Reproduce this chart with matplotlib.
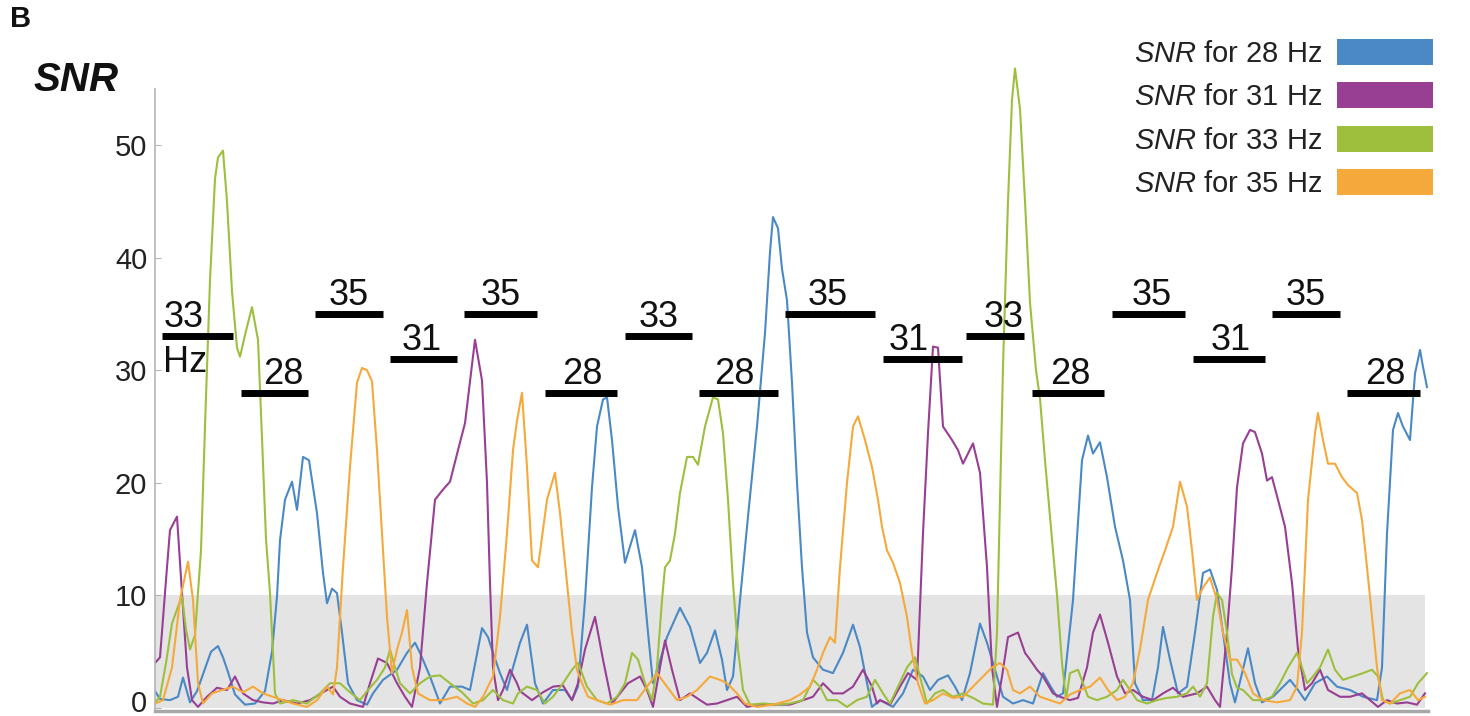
import numpy as np
import matplotlib
matplotlib.use("Agg")
import matplotlib.pyplot as plt
import matplotlib.transforms as mtransforms
from matplotlib.patches import Patch

# SNR traces, (time, SNR)
snr_28 = [
    (0.0, 1.5), (0.5, 0.8), (1.5, 0.7), (2.3, 1.0), (2.8, 2.7), (3.5, 0.5), (4.2, 1.5),
    (5.0, 3.5), (5.6, 5.0), (6.3, 5.5), (6.8, 4.5), (7.3, 3.2), (8.0, 1.2), (9.0, 0.3),
    (10.0, 0.4), (11.0, 1.5), (11.7, 5.0), (12.2, 9.9), (12.5, 14.9), (13.0, 18.5),
    (13.7, 20.1), (14.2, 17.6), (14.8, 22.3), (15.4, 22.0), (16.2, 17.3), (16.8, 12.0),
    (17.2, 9.3), (17.7, 10.6), (18.2, 10.2), (18.7, 6.7), (19.3, 2.2), (20.2, 0.7),
    (21.2, 0.3), (21.8, 1.3), (22.8, 2.5), (24.2, 3.4), (25.2, 4.9), (26.0, 5.8),
    (26.5, 4.9), (27.5, 2.8), (28.5, 0.4), (29.5, 1.9), (30.7, 1.9), (31.5, 1.6),
    (32.7, 7.1), (33.3, 6.3), (33.8, 4.9), (34.5, 3.1), (35.2, 1.6), (35.8, 3.6),
    (36.5, 5.8), (37.2, 7.4), (38.0, 2.2), (38.8, 0.4), (39.8, 1.6), (41.0, 1.6),
    (41.7, 0.7), (42.3, 1.9), (43.0, 9.6), (43.7, 19.6), (44.2, 25.0), (44.8, 27.4),
    (45.2, 27.6), (45.7, 23.8), (46.3, 17.9), (47.0, 12.9), (48.0, 15.8), (48.7, 12.5),
    (49.3, 6.7), (49.8, 2.2), (50.3, 3.6), (51.2, 6.3), (52.5, 8.9), (53.5, 7.2),
    (54.5, 4.0), (55.2, 4.9), (56.0, 6.9), (56.7, 4.3), (57.2, 1.6), (57.8, 2.8),
    (58.5, 9.6), (59.3, 17.0), (60.2, 25.0), (61.0, 33.3), (61.5, 40.5), (61.8, 43.6),
    (62.3, 42.6), (62.7, 39.0), (63.2, 36.2), (63.7, 28.9), (64.2, 20.0), (64.7, 12.5),
    (65.2, 6.7), (65.8, 4.5), (66.8, 3.4), (67.8, 3.1), (68.8, 4.9), (69.8, 7.4),
    (70.5, 5.4), (71.2, 2.2), (71.7, 0.1), (72.5, 0.7), (73.8, 0.1), (74.8, 1.3),
    (75.8, 3.4), (76.8, 2.8), (77.5, 1.6), (78.3, 2.5), (79.3, 2.9), (80.0, 1.9),
    (80.7, 0.7), (81.5, 3.1), (82.5, 7.5), (83.2, 5.8), (84.0, 3.4), (84.8, 1.0),
    (85.8, 0.4), (86.8, 0.7), (87.8, 0.4), (88.8, 3.1), (89.5, 2.0), (90.2, 1.0),
    (90.8, 1.3), (91.8, 9.6), (92.7, 22.0), (93.3, 24.2), (93.8, 22.6), (94.5, 23.6),
    (95.2, 20.5), (96.0, 16.1), (96.8, 13.1), (97.5, 9.6), (98.0, 2.2), (98.8, 0.7),
    (99.7, 0.7), (100.3, 3.6), (100.8, 7.2), (101.5, 4.3), (102.3, 1.3), (103.2, 1.9),
    (104.0, 6.7), (104.8, 12.0), (105.5, 12.3), (106.2, 10.5), (106.8, 6.7), (107.5, 2.2),
    (108.0, 0.5), (108.7, 3.1), (109.3, 5.3), (110.0, 2.2), (110.7, 0.5), (111.8, 1.0),
    (113.5, 2.5), (114.3, 1.6), (115.0, 0.7), (116.0, 2.2), (117.2, 2.8), (118.2, 1.9),
    (119.5, 1.6), (120.8, 1.0), (122.2, 0.7), (122.7, 3.6), (123.2, 15.5), (123.8, 24.7),
    (124.3, 26.2), (124.8, 25.0), (125.5, 23.8), (126.0, 29.7), (126.5, 31.8),
    (126.8, 30.3), (127.2, 28.5),
]

snr_31 = [
    (0.0, 4.0), (0.5, 4.5), (1.2, 12.5), (1.5, 15.8), (2.2, 17.0), (2.7, 10.2), (3.2, 3.6),
    (3.7, 0.7), (4.3, 0.1), (5.2, 1.0), (6.2, 1.8), (7.2, 1.6), (8.0, 2.8), (8.8, 1.3),
    (9.8, 0.7), (10.8, 0.5), (11.8, 0.4), (12.8, 0.7), (14.2, 0.4), (15.5, 0.7),
    (16.8, 1.4), (17.8, 1.9), (18.5, 1.0), (19.5, 0.4), (20.8, 0.1), (21.5, 2.2),
    (22.3, 4.4), (23.2, 4.0), (24.2, 2.2), (25.0, 1.0), (25.7, 0.1), (26.5, 3.6),
    (27.2, 11.1), (28.0, 18.5), (28.8, 19.4), (29.5, 20.1), (30.3, 22.9), (31.0, 25.3),
    (32.0, 32.7), (32.7, 29.1), (33.2, 20.0), (33.5, 11.1), (33.8, 3.6), (34.3, 0.7),
    (34.8, 1.6), (35.5, 3.4), (36.2, 2.2), (36.5, 1.5), (37.7, 0.7), (38.8, 1.4),
    (39.8, 1.9), (40.8, 2.0), (41.7, 0.7), (42.3, 2.2), (43.0, 5.2), (44.0, 8.1),
    (44.8, 4.3), (45.7, 0.4), (46.5, 1.3), (47.3, 2.2), (48.5, 2.8), (49.2, 1.6),
    (49.8, 0.1), (50.5, 3.6), (51.0, 6.0), (51.7, 3.4), (52.5, 0.7), (53.5, 1.3),
    (54.5, 0.7), (55.2, 0.3), (56.2, 0.4), (57.2, 0.7), (58.2, 1.0), (59.2, 0.1),
    (60.2, 0.3), (63.5, 0.3), (64.8, 0.7), (65.8, 1.0), (66.8, 2.2), (67.8, 1.3),
    (68.8, 1.3), (69.8, 1.9), (70.8, 3.4), (71.7, 1.9), (72.2, 0.4), (72.5, 0.7),
    (73.5, 0.3), (74.5, 1.9), (75.3, 3.1), (76.2, 2.5), (76.8, 15.5), (77.3, 24.4),
    (77.8, 32.1), (78.3, 32.0), (78.8, 25.0), (79.7, 23.8), (80.3, 22.9), (80.8, 21.7),
    (81.8, 23.5), (82.5, 20.9), (83.2, 12.5), (83.7, 3.6), (84.2, 0.1), (84.7, 2.8),
    (85.3, 6.3), (86.3, 6.7), (87.0, 4.9), (87.5, 4.3), (88.2, 3.4), (88.8, 2.8),
    (89.8, 1.3), (90.5, 1.0), (91.5, 0.7), (92.3, 0.9), (93.2, 3.6), (93.8, 6.7),
    (94.5, 8.3), (95.3, 5.8), (96.2, 2.8), (97.0, 1.3), (97.8, 1.6), (98.8, 1.0),
    (99.8, 0.7), (100.8, 1.3), (101.8, 1.8), (102.8, 1.0), (104.2, 1.3), (105.2, 1.9),
    (106.0, 0.7), (106.5, 0.1), (107.2, 6.7), (107.7, 12.5), (108.2, 19.6), (108.8, 23.5),
    (109.5, 24.7), (110.0, 24.5), (110.7, 22.6), (111.2, 20.2), (111.7, 20.5),
    (112.3, 18.5), (113.0, 16.1), (113.7, 11.1), (114.3, 5.2), (115.0, 1.6), (115.7, 2.2),
    (116.5, 3.4), (117.3, 1.6), (118.5, 1.0), (119.5, 1.0), (120.7, 1.3), (121.5, 0.7),
    (122.3, 0.1), (123.2, 0.7), (124.2, 0.4), (125.2, 0.5), (126.2, 0.3), (127.0, 1.3),
]

snr_33 = [
    (0.0, 0.5), (0.5, 1.0), (1.1, 4.0), (1.7, 7.5), (2.3, 9.0), (2.7, 9.9), (3.1, 7.0),
    (3.5, 5.2), (4.0, 6.5), (4.3, 10.2), (4.6, 14.0), (5.0, 25.0), (5.5, 38.0),
    (6.0, 47.0), (6.3, 48.9), (6.8, 49.5), (7.2, 45.0), (7.7, 37.0), (8.2, 32.0),
    (8.5, 31.2), (9.1, 33.5), (9.7, 35.6), (10.3, 32.7), (10.7, 24.0), (11.1, 15.0),
    (11.5, 10.2), (12.0, 1.3), (12.5, 0.4), (13.8, 0.7), (15.2, 0.4), (16.5, 1.3),
    (17.5, 2.2), (18.5, 2.2), (19.5, 1.4), (20.5, 0.7), (21.3, 1.6), (22.2, 2.5),
    (23.0, 3.6), (23.5, 5.2), (24.0, 3.6), (24.5, 2.2), (25.5, 1.3), (26.5, 2.2),
    (27.5, 2.8), (28.5, 2.9), (29.5, 2.2), (30.7, 1.4), (31.8, 0.4), (32.8, 0.7),
    (33.8, 1.6), (34.8, 0.7), (35.8, 0.4), (36.3, 1.3), (37.2, 1.9), (38.2, 1.6),
    (39.0, 0.4), (39.8, 1.0), (40.8, 2.2), (41.7, 3.4), (42.3, 4.0), (43.2, 1.9),
    (44.2, 0.7), (45.2, 0.4), (46.2, 1.0), (47.0, 2.2), (47.7, 4.9), (48.3, 4.3),
    (49.0, 2.2), (49.7, 0.7), (50.2, 3.6), (50.7, 9.6), (51.0, 12.5), (51.5, 13.1),
    (52.0, 15.5), (52.5, 19.1), (53.2, 22.3), (53.8, 22.3), (54.3, 21.6), (55.0, 25.0),
    (55.8, 27.6), (56.3, 27.4), (56.8, 24.4), (57.3, 18.5), (57.8, 11.1), (58.3, 5.2),
    (58.8, 1.6), (59.5, 0.3), (60.8, 0.4), (62.2, 0.3), (63.5, 0.4), (64.8, 0.7),
    (65.8, 2.5), (66.5, 1.9), (67.2, 0.7), (68.2, 0.7), (69.2, 0.1), (70.2, 0.7),
    (71.2, 1.0), (72.0, 2.5), (72.8, 1.3), (73.5, 0.4), (74.3, 1.9), (75.2, 3.6),
    (76.0, 4.5), (76.5, 2.8), (77.2, 0.4), (78.0, 1.3), (78.8, 1.6), (79.8, 1.0),
    (80.8, 1.3), (81.8, 0.9), (82.8, 0.4), (83.8, 0.3), (84.2, 6.7), (84.5, 18.5),
    (84.8, 30.3), (85.3, 45.0), (85.7, 54.0), (86.0, 56.8), (86.5, 53.2), (87.0, 45.0),
    (87.5, 36.0), (88.1, 30.0), (88.5, 27.5), (89.0, 22.0), (89.5, 17.0), (90.2, 10.0),
    (90.7, 4.0), (91.1, 0.8), (91.5, 3.1), (92.3, 3.4), (92.8, 2.2), (93.3, 1.0),
    (94.2, 0.7), (95.2, 1.0), (96.2, 1.6), (96.8, 2.5), (97.5, 1.6), (98.2, 0.7),
    (99.2, 0.4), (100.2, 0.7), (101.2, 0.9), (102.2, 1.0), (103.2, 1.3), (103.8, 1.9),
    (104.5, 1.0), (105.2, 2.2), (105.8, 8.1), (106.2, 10.2), (106.7, 9.6), (107.2, 6.7),
    (107.7, 3.0), (108.2, 1.8), (108.8, 1.6), (109.8, 0.7), (110.8, 0.7), (111.7, 1.0),
    (112.5, 2.2), (113.3, 3.6), (114.2, 4.9), (114.7, 3.6), (115.2, 2.2), (115.8, 2.8),
    (116.5, 3.6), (117.3, 5.2), (118.0, 3.4), (118.8, 2.5), (119.8, 2.8), (120.8, 3.1),
    (121.7, 3.4), (122.3, 2.8), (122.8, 0.7), (123.5, 0.4), (124.5, 0.7), (125.5, 1.0),
    (126.3, 2.2), (127.2, 3.1),
]

snr_35 = [
    (0.0, 0.4), (0.8, 0.7), (1.7, 3.6), (2.5, 9.6), (3.3, 13.0), (3.8, 9.6), (4.3, 2.2),
    (4.8, 0.4), (5.7, 1.3), (6.7, 1.6), (7.8, 1.9), (8.8, 1.4), (9.8, 1.9), (10.8, 1.3),
    (11.8, 1.0), (12.8, 0.7), (13.8, 0.4), (15.2, 0.1), (16.2, 0.7), (17.2, 1.9),
    (17.8, 1.2), (18.2, 3.6), (18.8, 12.5), (19.5, 21.4), (20.2, 28.9), (20.7, 30.2),
    (21.2, 30.0), (21.7, 29.0), (22.2, 22.9), (22.7, 15.5), (23.2, 8.1), (23.7, 3.1),
    (24.2, 5.2), (24.7, 6.7), (25.2, 8.7), (25.7, 3.6), (26.3, 1.3), (27.5, 0.7),
    (28.8, 0.7), (30.2, 1.0), (31.2, 0.4), (32.0, 0.1), (32.8, 1.0), (33.8, 2.8),
    (34.5, 8.1), (35.2, 15.5), (35.8, 22.9), (36.2, 25.5), (36.7, 28.0), (37.2, 21.4),
    (37.7, 13.1), (38.3, 12.5), (39.2, 18.5), (40.0, 20.9), (40.5, 17.3), (41.2, 11.1),
    (41.7, 6.7), (42.2, 3.4), (42.7, 2.2), (43.3, 1.0), (44.2, 0.7), (45.5, 0.3),
    (46.8, 0.7), (48.2, 0.7), (49.2, 1.9), (50.2, 3.1), (51.2, 1.9), (52.2, 0.7),
    (53.2, 1.0), (54.2, 1.6), (55.5, 2.8), (56.5, 2.5), (57.2, 2.2), (58.2, 1.3),
    (59.0, 0.4), (60.2, 0.1), (61.8, 0.3), (63.5, 0.7), (64.5, 1.2), (65.5, 1.9),
    (66.2, 3.4), (66.8, 4.9), (67.5, 6.3), (68.0, 5.8), (68.5, 12.5), (69.2, 20.0),
    (69.8, 25.0), (70.3, 25.9), (71.0, 23.8), (71.7, 21.4), (72.3, 18.5), (72.7, 16.1),
    (73.2, 14.0), (73.8, 12.9), (74.5, 11.1), (75.2, 8.1), (75.7, 4.9), (76.3, 2.2),
    (77.0, 0.4), (77.8, 0.7), (78.8, 1.3), (79.8, 0.9), (80.8, 1.0), (81.8, 1.9),
    (82.8, 2.8), (83.7, 3.6), (84.5, 4.0), (85.2, 3.4), (85.8, 1.6), (86.5, 1.3),
    (87.5, 1.9), (88.5, 1.0), (89.5, 0.7), (90.5, 0.4), (91.5, 1.2), (92.5, 1.6),
    (93.5, 1.9), (94.5, 2.7), (95.3, 1.6), (96.2, 0.7), (97.0, 1.0), (97.8, 2.2),
    (98.5, 5.2), (99.3, 9.6), (100.2, 12.0), (101.0, 14.0), (101.8, 16.1), (102.5, 20.1),
    (103.2, 17.9), (103.7, 14.0), (104.2, 9.6), (104.8, 10.7), (105.5, 11.6),
    (106.2, 9.6), (106.8, 6.7), (107.5, 4.3), (108.2, 4.3), (109.0, 3.1), (109.8, 1.3),
    (110.8, 0.7), (112.2, 0.5), (113.5, 0.7), (114.2, 1.9), (114.7, 6.7), (115.3, 18.5),
    (116.0, 24.4), (116.3, 26.2), (116.8, 23.8), (117.3, 21.7), (118.0, 21.7),
    (118.7, 20.5), (119.3, 19.8), (120.2, 19.1), (120.7, 16.7), (121.2, 12.5),
    (121.7, 8.1), (122.2, 3.6), (122.7, 0.7), (123.5, 0.4), (124.5, 1.3), (125.5, 1.6),
    (126.3, 0.7), (127.0, 1.0),
]

# stimulation blocks: frequency (Hz) and start / end time
stim_freq = [33, 28, 35, 31, 35, 28, 33, 28, 35, 31, 33, 28, 35, 31, 35, 28]
stim_start = [0.7, 8.6, 16.0, 23.5, 30.9, 39.0, 47.0, 54.4, 63.0, 72.8, 81.1, 87.7,
              95.7, 103.8, 111.7, 119.2]
stim_end = [7.8, 15.3, 22.8, 30.2, 38.2, 46.2, 53.7, 62.3, 72.0, 80.7, 86.9, 94.9,
            103.0, 111.0, 118.5, 126.5]

threshold = 10
legend_labels = [r"$\it{SNR}$ for 28 Hz", r"$\it{SNR}$ for 31 Hz",
                 r"$\it{SNR}$ for 33 Hz", r"$\it{SNR}$ for 35 Hz"]
colors = ["#4a89c5", "#983f93", "#9dbf3d", "#f6a93b"]

# small horizontal nudges (points) of the block labels
label_nudge = [0, 6, 0, -1, 0, 1, 0, -3, -2, -10, 6, 2, 2, 1, 0, 1]

plt.rcParams["font.family"] = "Liberation Sans"
plt.rcParams["mathtext.fontset"] = "custom"
plt.rcParams["mathtext.rm"] = "Liberation Sans"
plt.rcParams["mathtext.it"] = "Liberation Sans:italic"

W, H = 1470, 716
fig = plt.figure(figsize=(W / 100, H / 100), dpi=100)
ax = fig.add_axes([155 / W, 4.6 / H, 1273 / W, 662.1 / H])

series = [snr_28, snr_31, snr_33, snr_35]
t_all = [p[0] for s in series for p in s]
ax.fill_between([min(t_all), max(t_all) - 0.2], 0, threshold, color="#e4e4e4",
                lw=0, zorder=0)

for s, c in zip(series, colors):
    arr = np.array(s)
    ax.plot(arr[:, 0], arr[:, 1], color=c, lw=1.5, zorder=2)

ax.hlines(stim_freq, stim_start, stim_end, colors="black", lw=5, zorder=3)
for i, (f, a, b) in enumerate(zip(stim_freq, stim_start, stim_end)):
    if i == 0:
        ax.annotate(str(f), xy=(a, f), xytext=(1, 6.5), textcoords="offset points",
                    ha="left", va="baseline", fontsize=26, color="#111")
        ax.annotate("Hz", xy=(a, f), xytext=(1, -6), textcoords="offset points",
                    ha="left", va="top", fontsize=26, color="#111")
    else:
        ax.annotate(str(f), xy=((a + b) / 2, f), xytext=(label_nudge[i], 6.5),
                    textcoords="offset points", ha="center", va="baseline",
                    fontsize=26, color="#111")

ax.set_xlim(0, 127.3)
ax.set_ylim(-0.3, 58.5)
ax.set_xticks([])
ax.set_yticks(range(0, 51, 10))
ax.tick_params(axis="y", direction="in", length=4, color="#b5b5b5", labelsize=21,
               labelcolor="#222222", pad=5.5)
for side in ["top", "right"]:
    ax.spines[side].set_visible(False)
ax.spines["left"].set_bounds(-0.3, 55)
ax.spines["left"].set_color("#b5b5b5")
ax.spines["left"].set_linewidth(1.2)
ax.spines["bottom"].set_color("#a8a8a8")
ax.spines["bottom"].set_linewidth(2.5)

# lift the "0" label a little so it stays inside the canvas
zero_lbl = ax.yaxis.get_major_ticks()[0].label1
zero_lbl.set_transform(zero_lbl.get_transform() +
                       mtransforms.ScaledTranslation(0, 0.07, fig.dpi_scale_trans))

handles = [Patch(facecolor=c, edgecolor="none") for c in colors]
ax.legend(handles, legend_labels, loc="upper right",
          bbox_to_anchor=(1433 / W, 1 - 39 / H), bbox_transform=fig.transFigure,
          frameon=False, fontsize=21, markerfirst=False, handlelength=3.3,
          handleheight=1.0, handletextpad=0.5, labelspacing=0.49, borderpad=0,
          borderaxespad=0, labelcolor="#222222")

fig.text(10 / W, 1 - 19 / H, "B", fontsize=21, fontweight="bold", va="center",
         ha="left", color="#111")
fig.text(33 / W, 1 - 80 / H, "SNR", fontsize=29, fontweight="bold", style="italic",
         va="center", ha="left", color="#111")

fig.savefig("out.png", dpi=100)
